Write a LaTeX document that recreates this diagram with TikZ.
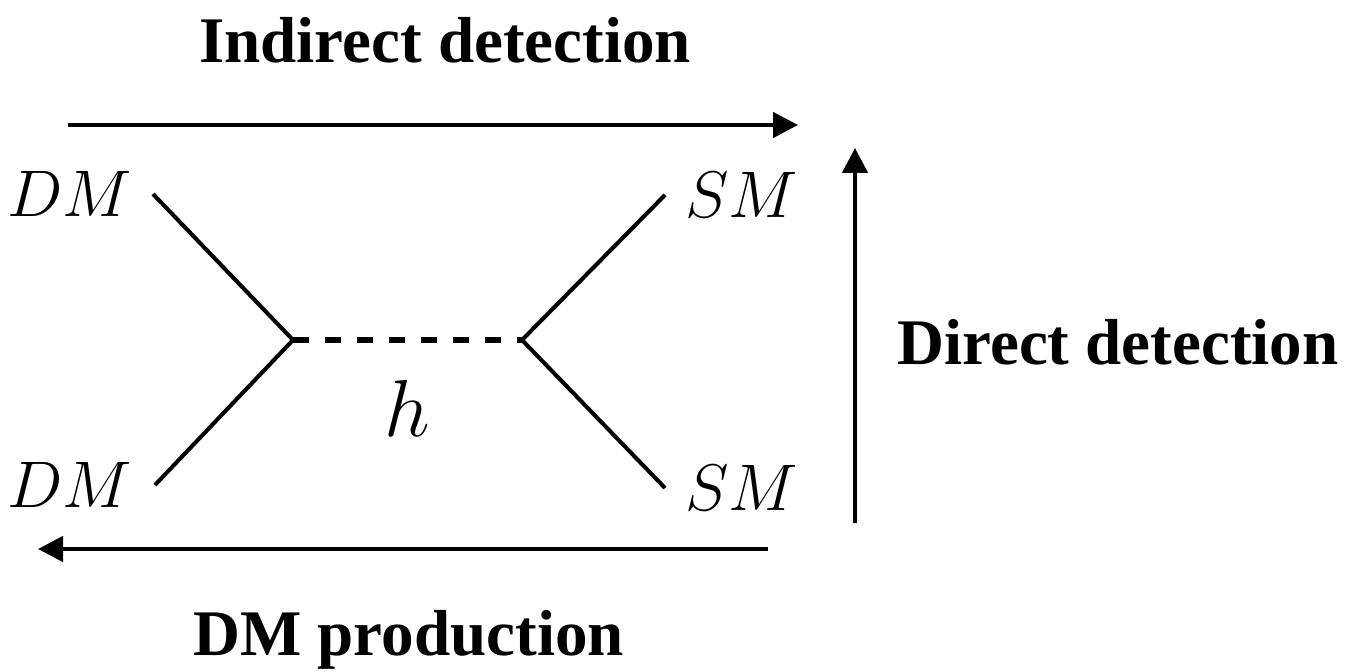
\RequirePackage{fix-cm}
\documentclass[tikz,border=0pt]{standalone}
\usepackage{fontspec}
\setmainfont{Liberation Serif}
\usetikzlibrary{arrows.meta,positioning,calc}
\tikzset{every picture/.style={line width=2.4pt},
    prop/.style={line width=2.3pt},
    scalar/.style={line width=3.2pt, dash pattern=on 0.32cm off 0.32cm},
    flow/.style={line width=2.6pt, -{Triangle[length=0.5cm, width=0.5cm]}},
    lab/.style={inner sep=0pt, font=\fontsize{37.5}{44}\selectfont},
    title/.style={inner sep=0pt, anchor=base, font=\fontsize{37}{44}\selectfont\bfseries}}

\begin{document}
\begin{tikzpicture}
    \useasboundingbox (0,0) rectangle (27.02,13.42);
    % vertices
    \coordinate (v1) at (5.86,6.62);
    \coordinate[right=4.58cm of v1] (v2);
    \coordinate[above left=2.92cm and 2.8cm of v1] (a1);
    \coordinate[below left=2.9cm and 2.76cm of v1] (b1);
    \coordinate[above right=2.9cm and 2.86cm of v2] (c1);
    \coordinate[below right=2.96cm and 2.86cm of v2] (d1);
    \node[lab, left=0.38cm of a1] (dma) {$DM$};
    \node[lab, left=0.42cm of b1] (dmb) {$DM$};
    \node[lab, right=0.36cm of c1] (sma) {$SM$};
    \node[lab, right=0.36cm of d1] (smb) {$SM$};
    \draw[prop] (a1) -- (v1) -- (b1);
    \draw[prop] (c1) -- (v2) -- (d1);
    \draw[scalar] (v1) -- (v2);
    \node[lab, font=\fontsize{46}{55}\selectfont, below=0.76cm of $(v1)!0.5!(v2)$] (h) {$h$};
    % process arrows
    \coordinate (p1) at (1.36,10.92);
    \coordinate (p2) at (15.96,10.92);
    \coordinate (q1) at (15.36,2.44);
    \coordinate (q2) at (0.76,2.44);
    \coordinate (r1) at (17.1,2.96);
    \coordinate (r2) at (17.1,10.46);
    \draw[flow] (p1) -- (p2);
    \draw[flow] (q1) -- (q2);
    \draw[flow] (r1) -- (r2);
    \node[title] (ind) at (8.9,12.16) {Indirect detection};
    \node[title] (dir) at (22.36,6.12) {Direct detection};
    \node[title] (prod) at (8.17,0.32) {DM production};
\end{tikzpicture}
\end{document}
